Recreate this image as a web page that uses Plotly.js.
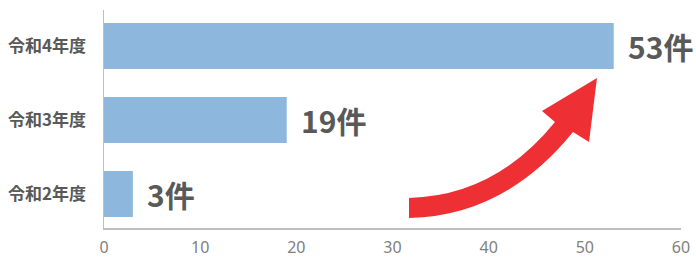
<!DOCTYPE html>
<html><head><meta charset="utf-8">
<script src="https://cdn.plot.ly/plotly-3.0.1.min.js"></script>
<style>html,body{margin:0;padding:0;background:#fff;}</style>
</head><body>
<div id="chart" style="width:696px;height:257px;"></div>
<script>
const categories = ['令和2年度', '令和3年度', '令和4年度'];
const values = [3, 19, 53];
const valueLabels = ['3件', '19件', '53件'];
const xTicks = [0, 10, 20, 30, 40, 50, 60];

const W = 696, H = 257;
const M = {l: 104, r: 15, t: 10, b: 29};
const pw = W - M.l - M.r, ph = H - M.t - M.b;
function P(px, py) { return ((px - M.l) / pw).toFixed(4) + ',' + ((H - M.b - py) / ph).toFixed(4); }

const arrowPath = 'M' + P(409, 198) +
  ' Q' + P(495, 196) + ' ' + P(555, 122) +
  ' L' + P(542, 111) +
  ' L' + P(597, 78) +
  ' L' + P(589, 142) +
  ' L' + P(573, 132) +
  ' Q' + P(505, 216) + ' ' + P(409, 218) + ' Z';

const data = [{
  type: 'bar', orientation: 'h',
  y: categories, x: values,
  marker: {color: '#8DB7DC'},
  width: 0.62,
  hoverinfo: 'none'
}];

const annotations = values.map((v, i) => ({
  x: v, y: categories[i], xref: 'x', yref: 'y',
  text: valueLabels[i], showarrow: false,
  xanchor: 'left', yanchor: 'middle', xshift: 12,
  font: {family: 'Noto Sans CJK JP', size: 30, color: '#595959', weight: 700}
}));

const layout = {
  width: W, height: H,
  margin: M,
  paper_bgcolor: '#fff', plot_bgcolor: '#fff',
  showlegend: false,
  xaxis: {
    range: [0, 60], tickvals: xTicks, showgrid: false, zeroline: false,
    showline: true, linecolor: '#bfbfbf', linewidth: 1.5,
    ticks: '', ticklen: 0, ticklabelstandoff: 4,
    tickfont: {family: 'Noto Sans', size: 16, color: '#808080'}
  },
  yaxis: {
    type: 'category', categoryorder: 'array', categoryarray: categories,
    range: [-0.46, 2.486], showgrid: false, zeroline: false,
    showline: true, linecolor: '#bfbfbf', linewidth: 1.5,
    ticks: '', ticklen: 0, ticklabelstandoff: 13,
    tickfont: {family: 'Noto Sans CJK JP', size: 17, color: '#595959', weight: 700}
  },
  annotations: annotations,
  shapes: [{
    type: 'path', xref: 'paper', yref: 'paper',
    path: arrowPath, fillcolor: '#EE3035', line: {width: 0}, layer: 'above'
  }]
};

Plotly.newPlot('chart', data, layout, {displayModeBar: false, staticPlot: true});
</script>
</body></html>
